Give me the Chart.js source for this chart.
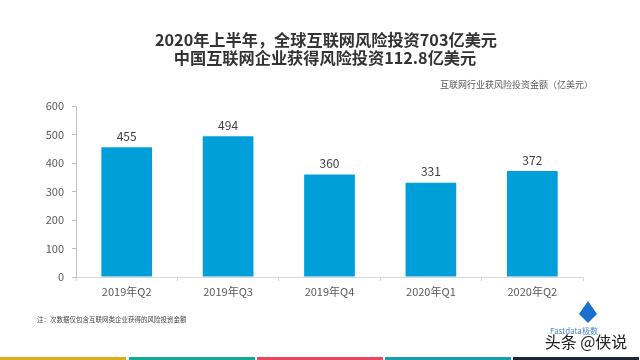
<!DOCTYPE html>
<html><head><meta charset="utf-8">
<script src="https://cdn.jsdelivr.net/npm/chart.js@4.4.1/dist/chart.umd.min.js"></script>
<style>html,body{margin:0;padding:0;background:#fff;}canvas{display:block;}</style>
</head><body>
<canvas id="c" width="640" height="360"></canvas>
<script>
const categories = ["2019年Q2","2019年Q3","2019年Q4","2020年Q1","2020年Q2"];
const values = [455, 494, 360, 331, 372];
const yTicks = [0,100,200,300,400,500,600];
const titleLines = ["2020年上半年，全球互联网风险投资703亿美元","中国互联网企业获得风险投资112.8亿美元"];
const unitLabel = "互联网行业获风险投资金额（亿美元）";
const noteText = "注：次数据仅包含互联网类企业获得的风险投资金额";
const stripeColors = ["#dcab1f","#16a99a","#e8495a","#1a9db2","#1b2735"];

const CJK = '"Noto Sans CJK SC","Noto Sans",sans-serif';

const decor = {
  id:'decor',
  afterDraw(chart){
    const ctx = chart.ctx;
    ctx.save();
    ctx.fillStyle = '#333333';
    ctx.textAlign = 'center';
    ctx.textBaseline = 'middle';
    ctx.font = 'bold 16.2px ' + CJK;
    ctx.fillText(titleLines[0], 326, 40);
    ctx.fillText(titleLines[1], 325, 58);
    ctx.font = '9px ' + CJK;
    ctx.fillStyle = '#595959';
    ctx.textAlign = 'right';
    ctx.fillText(unitLabel, 593, 85);
    ctx.textAlign = 'left';
    ctx.font = '6.5px ' + CJK;
    ctx.fillStyle = '#444';
    ctx.fillText(noteText, 37, 320);
    // data labels
    const meta = chart.getDatasetMeta(0);
    ctx.textAlign = 'center';
    ctx.font = '12px ' + CJK;
    ctx.fillStyle = '#404040';
    meta.data.forEach((bar,i)=>{
      ctx.fillText(String(values[i]), bar.x, bar.y - 11);
    });
    // logo
    ctx.fillStyle = '#1a6fd0';
    ctx.beginPath();
    ctx.moveTo(588,301); ctx.lineTo(597,314); ctx.lineTo(588,323); ctx.lineTo(579,314); ctx.closePath();
    ctx.fill();
    ctx.fillStyle = '#4a86d6';
    ctx.font = '8px ' + CJK;
    ctx.fillText('Fastdata极数', 574, 331);
    ctx.fillStyle = '#222';
    ctx.font = '16px ' + CJK;
    ctx.fillText('头条 @侠说', 586, 342);
    // stripes
    const w = 128;
    stripeColors.forEach((c,i)=>{
      ctx.fillStyle = c;
      ctx.fillRect(i*w + (i>0?1:0), 357, w-2, 3);
    });
    ctx.restore();
  }
};

new Chart(document.getElementById('c'), {
  type:'bar',
  data:{labels:categories, datasets:[{data:values, backgroundColor:'#009fd9', categoryPercentage:1, barPercentage:0.5}]},
  options:{
    responsive:false, animation:false,
    layout:{padding:{left:0,right:57,top:106,bottom:0}},
    plugins:{legend:{display:false}, tooltip:{enabled:false}},
    scales:{
      x:{
        grid:{offset:true, drawOnChartArea:false, color:'#d9d9d9', tickLength:4},
        border:{color:'#d9d9d9'},
        ticks:{color:'#595959', font:{size:11, family:CJK}, padding:4},
        afterFit(s){ s.height = 83; }
      },
      y:{
        min:0, max:600,
        afterBuildTicks(s){ s.ticks = yTicks.map(v=>({value:v})); },
        grid:{drawOnChartArea:false, color:'#bfbfbf', tickLength:4},
        border:{color:'#bfbfbf'},
        ticks:{color:'#595959', font:{size:11, family:CJK}, padding:8},
        afterFit(s){ s.width = 76; }
      }
    }
  },
  plugins:[decor]
});
</script>
</body></html>
